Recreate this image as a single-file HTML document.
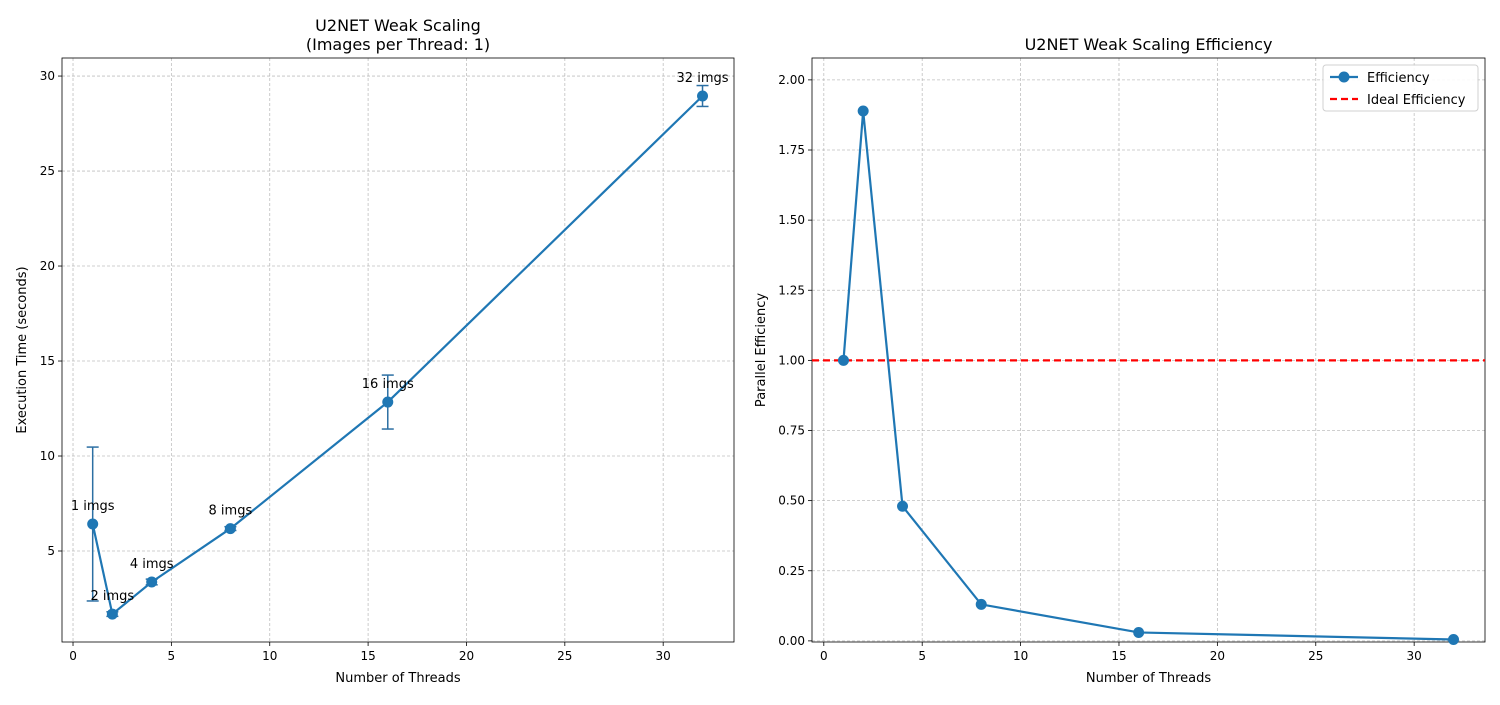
<!DOCTYPE html>
<html><head><meta charset="utf-8"><style>
body{margin:0;background:#fff;font-family:"Liberation Sans","DejaVu Sans",sans-serif;}
svg text{font-family:"DejaVu Sans","Liberation Sans",sans-serif;fill:#000;}
</style></head><body>
<svg id="c" width="1500" height="700" xmlns="http://www.w3.org/2000/svg"></svg>
<script>
const threads=[1,2,4,8,16,32];
const times=[6.42,1.68,3.37,6.18,12.84,28.95];
const timeErr=[4.05,0.12,0.15,0.1,1.42,0.55];
const imgLabels=["1 imgs","2 imgs","4 imgs","8 imgs","16 imgs","32 imgs"];
const efficiency=[1.0,1.889,0.48,0.13,0.03,0.005];
const leftXTicks=[0,5,10,15,20,25,30];
const leftYTicks=[5,10,15,20,25,30];
const rightXTicks=[0,5,10,15,20,25,30];
const rightYTicks=[0,0.25,0.5,0.75,1.0,1.25,1.5,1.75,2.0];

const svg=document.getElementById('c');
const NS='http://www.w3.org/2000/svg';
function mk(tag,at,parent){const e=document.createElementNS(NS,tag);for(const k in at)e.setAttribute(k,at[k]);(parent||svg).appendChild(e);return e;}
function txt(s,x,y,at,parent){const e=mk('text',Object.assign({x:x,y:y},at),parent);e.textContent=s;return e;}

function panel(o){
  const g=mk('g',{});
  
  
  const sx=v=>o.x0+(v-o.xmin)/(o.xmax-o.xmin)*(o.x1-o.x0);
  const sy=v=>o.y1-(v-o.ymin)/(o.ymax-o.ymin)*(o.y1-o.y0);
  o.xt.forEach(t=>{const x=sx(t);
    mk('line',{x1:x,x2:x,y1:o.y0,y2:o.y1,stroke:'#b0b0b0','stroke-width':0.8,'stroke-dasharray':'3,2',opacity:0.8},g);
    mk('line',{x1:x,x2:x,y1:o.y1,y2:o.y1+4,stroke:'#000','stroke-width':0.8},g);
    const l=txt(String(t),x,o.y1+18,{'font-size':12,'text-anchor':'middle'},g);
    
    
  });
  o.yt.forEach(t=>{const y=sy(t);
    mk('line',{x1:o.x0,x2:o.x1,y1:y,y2:y,stroke:'#b0b0b0','stroke-width':0.8,'stroke-dasharray':'3,2',opacity:0.8},g);
    mk('line',{x1:o.x0-4,x2:o.x0,y1:y,y2:y,stroke:'#000','stroke-width':0.8},g);
    const l=txt(o.yfmt(t),o.x0-7,y+4,{'font-size':12,'text-anchor':'end'},g);
    
    
  });
  const fr=mk('rect',{x:o.x0,y:o.y0,width:o.x1-o.x0,height:o.y1-o.y0,fill:'none',stroke:'#000','stroke-width':0.8},g);
  
  
  const xl=txt('Number of Threads',(o.x0+o.x1)/2,o.y1+40,{'font-size':13,'text-anchor':'middle'},g);
  
  
  const yx=o.x0-(o.ylx),yy=(o.y0+o.y1)/2;
  const yl=txt(o.ylabel,yx,yy,{'font-size':13,'text-anchor':'middle',transform:`rotate(-90 ${yx} ${yy})`},g);
  
  
  o.titles.forEach((t,i)=>{const e=txt(t,(o.x0+o.x1)/2,o.y0-(o.titles.length-i)*19+11,{'font-size':16,'text-anchor':'middle'},g);
    
    });
  return {g,sx,sy};
}

// Left
const L=panel({name:'execution-time-chart',x0:62,x1:734,y0:58,y1:642,xmin:-0.56,xmax:33.6,ymin:0.21,ymax:30.95,
  xt:leftXTicks,yt:leftYTicks,yfmt:t=>String(t),ylabel:'Execution Time (seconds)',ylx:36,
  titles:['U2NET Weak Scaling','(Images per Thread: 1)']});
threads.forEach((t,i)=>{const x=L.sx(t),a=L.sy(times[i]+timeErr[i]),b=L.sy(times[i]-timeErr[i]);
  const e=mk('g',{},L.g);
  
  
  mk('line',{x1:x,x2:x,y1:a,y2:b,stroke:'#2c6fa3','stroke-width':1.5},e);
  mk('line',{x1:x-6,x2:x+6,y1:a,y2:a,stroke:'#2c6fa3','stroke-width':1.5},e);
  mk('line',{x1:x-6,x2:x+6,y1:b,y2:b,stroke:'#2c6fa3','stroke-width':1.5},e);
});
const lp=mk('polyline',{points:threads.map((t,i)=>L.sx(t)+','+L.sy(times[i])).join(' '),fill:'none',stroke:'#1f77b4','stroke-width':2.2},L.g);


threads.forEach((t,i)=>{const c=mk('circle',{cx:L.sx(t),cy:L.sy(times[i]),r:5.5,fill:'#1f77b4'},L.g);
  
  
  const l=txt(imgLabels[i],L.sx(t),L.sy(times[i])-14,{'font-size':13,'text-anchor':'middle'},L.g);
  
  
});

// Right
const R=panel({name:'efficiency-chart',x0:812,x1:1485,y0:58,y1:642,xmin:-0.6,xmax:33.6,ymin:-0.004,ymax:2.078,
  xt:rightXTicks,yt:rightYTicks,yfmt:t=>t.toFixed(2),ylabel:'Parallel Efficiency',ylx:47,
  titles:['U2NET Weak Scaling Efficiency']});
const ideal=mk('line',{x1:812,x2:1485,y1:R.sy(1),y2:R.sy(1),stroke:'#ff0000','stroke-width':2.2,'stroke-dasharray':'7,4'},R.g);


const rp=mk('polyline',{points:threads.map((t,i)=>R.sx(t)+','+R.sy(efficiency[i])).join(' '),fill:'none',stroke:'#1f77b4','stroke-width':2.2},R.g);


threads.forEach((t,i)=>{const c=mk('circle',{cx:R.sx(t),cy:R.sy(efficiency[i]),r:5.5,fill:'#1f77b4'},R.g);
  
  });
// legend
const lg=mk('g',{},R.g);


mk('rect',{x:1323,y:65,width:155,height:46,rx:3,fill:'#fff',stroke:'#cccccc','stroke-width':1,opacity:0.9},lg);
mk('line',{x1:1330,x2:1358,y1:77,y2:77,stroke:'#1f77b4','stroke-width':2.2},lg);
mk('circle',{cx:1344,cy:77,r:5.5,fill:'#1f77b4'},lg);
const le1=txt('Efficiency',1367,82,{'font-size':13},lg);


mk('line',{x1:1330,x2:1358,y1:99,y2:99,stroke:'#ff0000','stroke-width':2.2,'stroke-dasharray':'7,4'},lg);
const le2=txt('Ideal Efficiency',1367,104,{'font-size':13},lg);


</script>
</body></html>
